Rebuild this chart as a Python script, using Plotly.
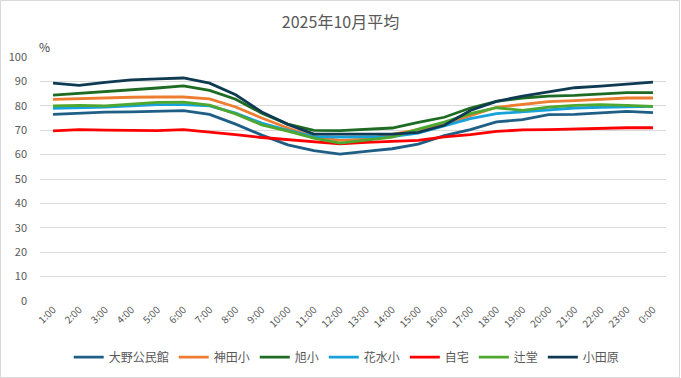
import plotly.graph_objects as go

hours = ["1:00", "2:00", "3:00", "4:00", "5:00", "6:00", "7:00", "8:00", "9:00", "10:00",
         "11:00", "12:00", "13:00", "14:00", "15:00", "16:00", "17:00", "18:00", "19:00",
         "20:00", "21:00", "22:00", "23:00", "0:00"]

ono = [76.5, 77.0, 77.4, 77.5, 77.8, 78.0, 76.5, 72.5, 68.0, 64.0, 61.6, 60.2, 61.3, 62.4,
       64.3, 67.8, 70.2, 73.4, 74.3, 76.4, 76.5, 77.0, 77.7, 77.2]
kanda = [82.6, 83.0, 83.3, 83.5, 83.6, 83.6, 82.8, 79.5, 75.0, 70.9, 67.4, 65.8, 66.3, 68.1,
         70.2, 72.2, 76.0, 79.4, 80.6, 81.7, 82.1, 82.5, 83.2, 83.2]
asahi = [84.4, 85.1, 85.7, 86.5, 87.3, 88.2, 86.3, 82.7, 77.0, 72.5, 69.9, 69.8, 70.2, 70.9,
         73.2, 75.3, 79.1, 81.8, 83.2, 84.0, 84.3, 84.8, 85.4, 85.4]
hanamizu = [79.0, 79.2, 79.5, 80.0, 80.5, 80.5, 80.0, 77.0, 72.9, 69.9, 67.4, 67.2, 67.2, 67.4,
            68.8, 71.9, 74.7, 76.8, 77.5, 78.5, 79.1, 79.4, 79.6, 79.8]
jitaku = [69.7, 70.2, 70.0, 69.8, 69.8, 70.2, 69.3, 68.2, 67.0, 66.1, 65.1, 64.4, 65.0, 65.4,
          65.8, 67.3, 68.2, 69.5, 70.1, 70.2, 70.5, 70.6, 71.0, 71.0]
tsujido = [80.0, 80.2, 80.0, 80.6, 81.4, 81.5, 80.3, 76.7, 72.2, 69.6, 66.8, 64.7, 65.8, 67.2,
           70.4, 73.3, 76.8, 79.2, 78.1, 79.5, 80.2, 80.5, 80.2, 79.8]
odawara = [89.3, 88.4, 89.6, 90.6, 91.0, 91.4, 89.3, 84.5, 77.5, 72.4, 68.4, 68.4, 68.3, 68.4,
           69.1, 72.0, 78.1, 81.8, 84.0, 85.7, 87.4, 88.1, 88.9, 89.7]

series = [
    ("大野公民館", ono, "#1F5F86"),
    ("神田小", kanda, "#ED7D31"),
    ("旭小", asahi, "#1E6B24"),
    ("花水小", hanamizu, "#17A2DC"),
    ("自宅", jitaku, "#FF0000"),
    ("辻堂", tsujido, "#4EA72E"),
    ("小田原", odawara, "#0E3A52"),
]

fig = go.Figure()
for name, vals, color in series:
    fig.add_trace(go.Scatter(x=hours, y=vals, mode="lines", name=name,
                             line=dict(color=color, width=2.8)))

W, H = 681, 378
ml, mr, mt, mb = 40, 15, 57, 77
pw, ph = W - ml - mr, H - mt - mb

fig.update_layout(
    width=W, height=H,
    margin=dict(l=ml, r=mr, t=mt, b=mb, autoexpand=False),
    paper_bgcolor="white", plot_bgcolor="white",
    font=dict(family="Noto Sans CJK JP, Noto Sans, sans-serif", color="#595959", size=11),
    title=dict(text="2025年10月平均", x=0.5, xanchor="center", y=0.94, yanchor="middle",
               font=dict(size=16, color="#595959")),
    xaxis=dict(type="category", showgrid=False, zeroline=False, showline=False,
               tickangle=-45, tickfont=dict(size=10, color="#595959"), ticks="",
               range=[-0.5, 23.5], automargin=False),
    yaxis=dict(range=[0, 100], dtick=10, showgrid=True, gridcolor="#D9D9D9", gridwidth=1,
               zeroline=False, showline=False, ticks="", automargin=False,
               ticklabelstandoff=12,
               tickfont=dict(size=11, color="#595959")),
    legend=dict(orientation="h", x=0.49, xanchor="center", y=-0.23, yanchor="middle",
                font=dict(size=12, color="#595959"), itemwidth=30, tracegroupgap=0),
    showlegend=True,
    annotations=[dict(text="%", xref="paper", yref="paper", x=0, y=1.0, xanchor="left",
                      xshift=-3, yanchor="bottom", showarrow=False,
                      font=dict(size=12, color="#404040"))],
    shapes=[dict(type="rect", xref="paper", yref="paper",
                 x0=(0.5 - ml) / pw, x1=(W - 1.5 - ml) / pw,
                 y0=-(mb - 0.5) / ph, y1=(H - mb - 0.5) / ph,
                 line=dict(color="#D9D9D9", width=1))],
)

fig.write_html("out.html", config={"displayModeBar": False},
               post_script="document.body.style.margin='0';document.body.style.overflow='hidden';")
